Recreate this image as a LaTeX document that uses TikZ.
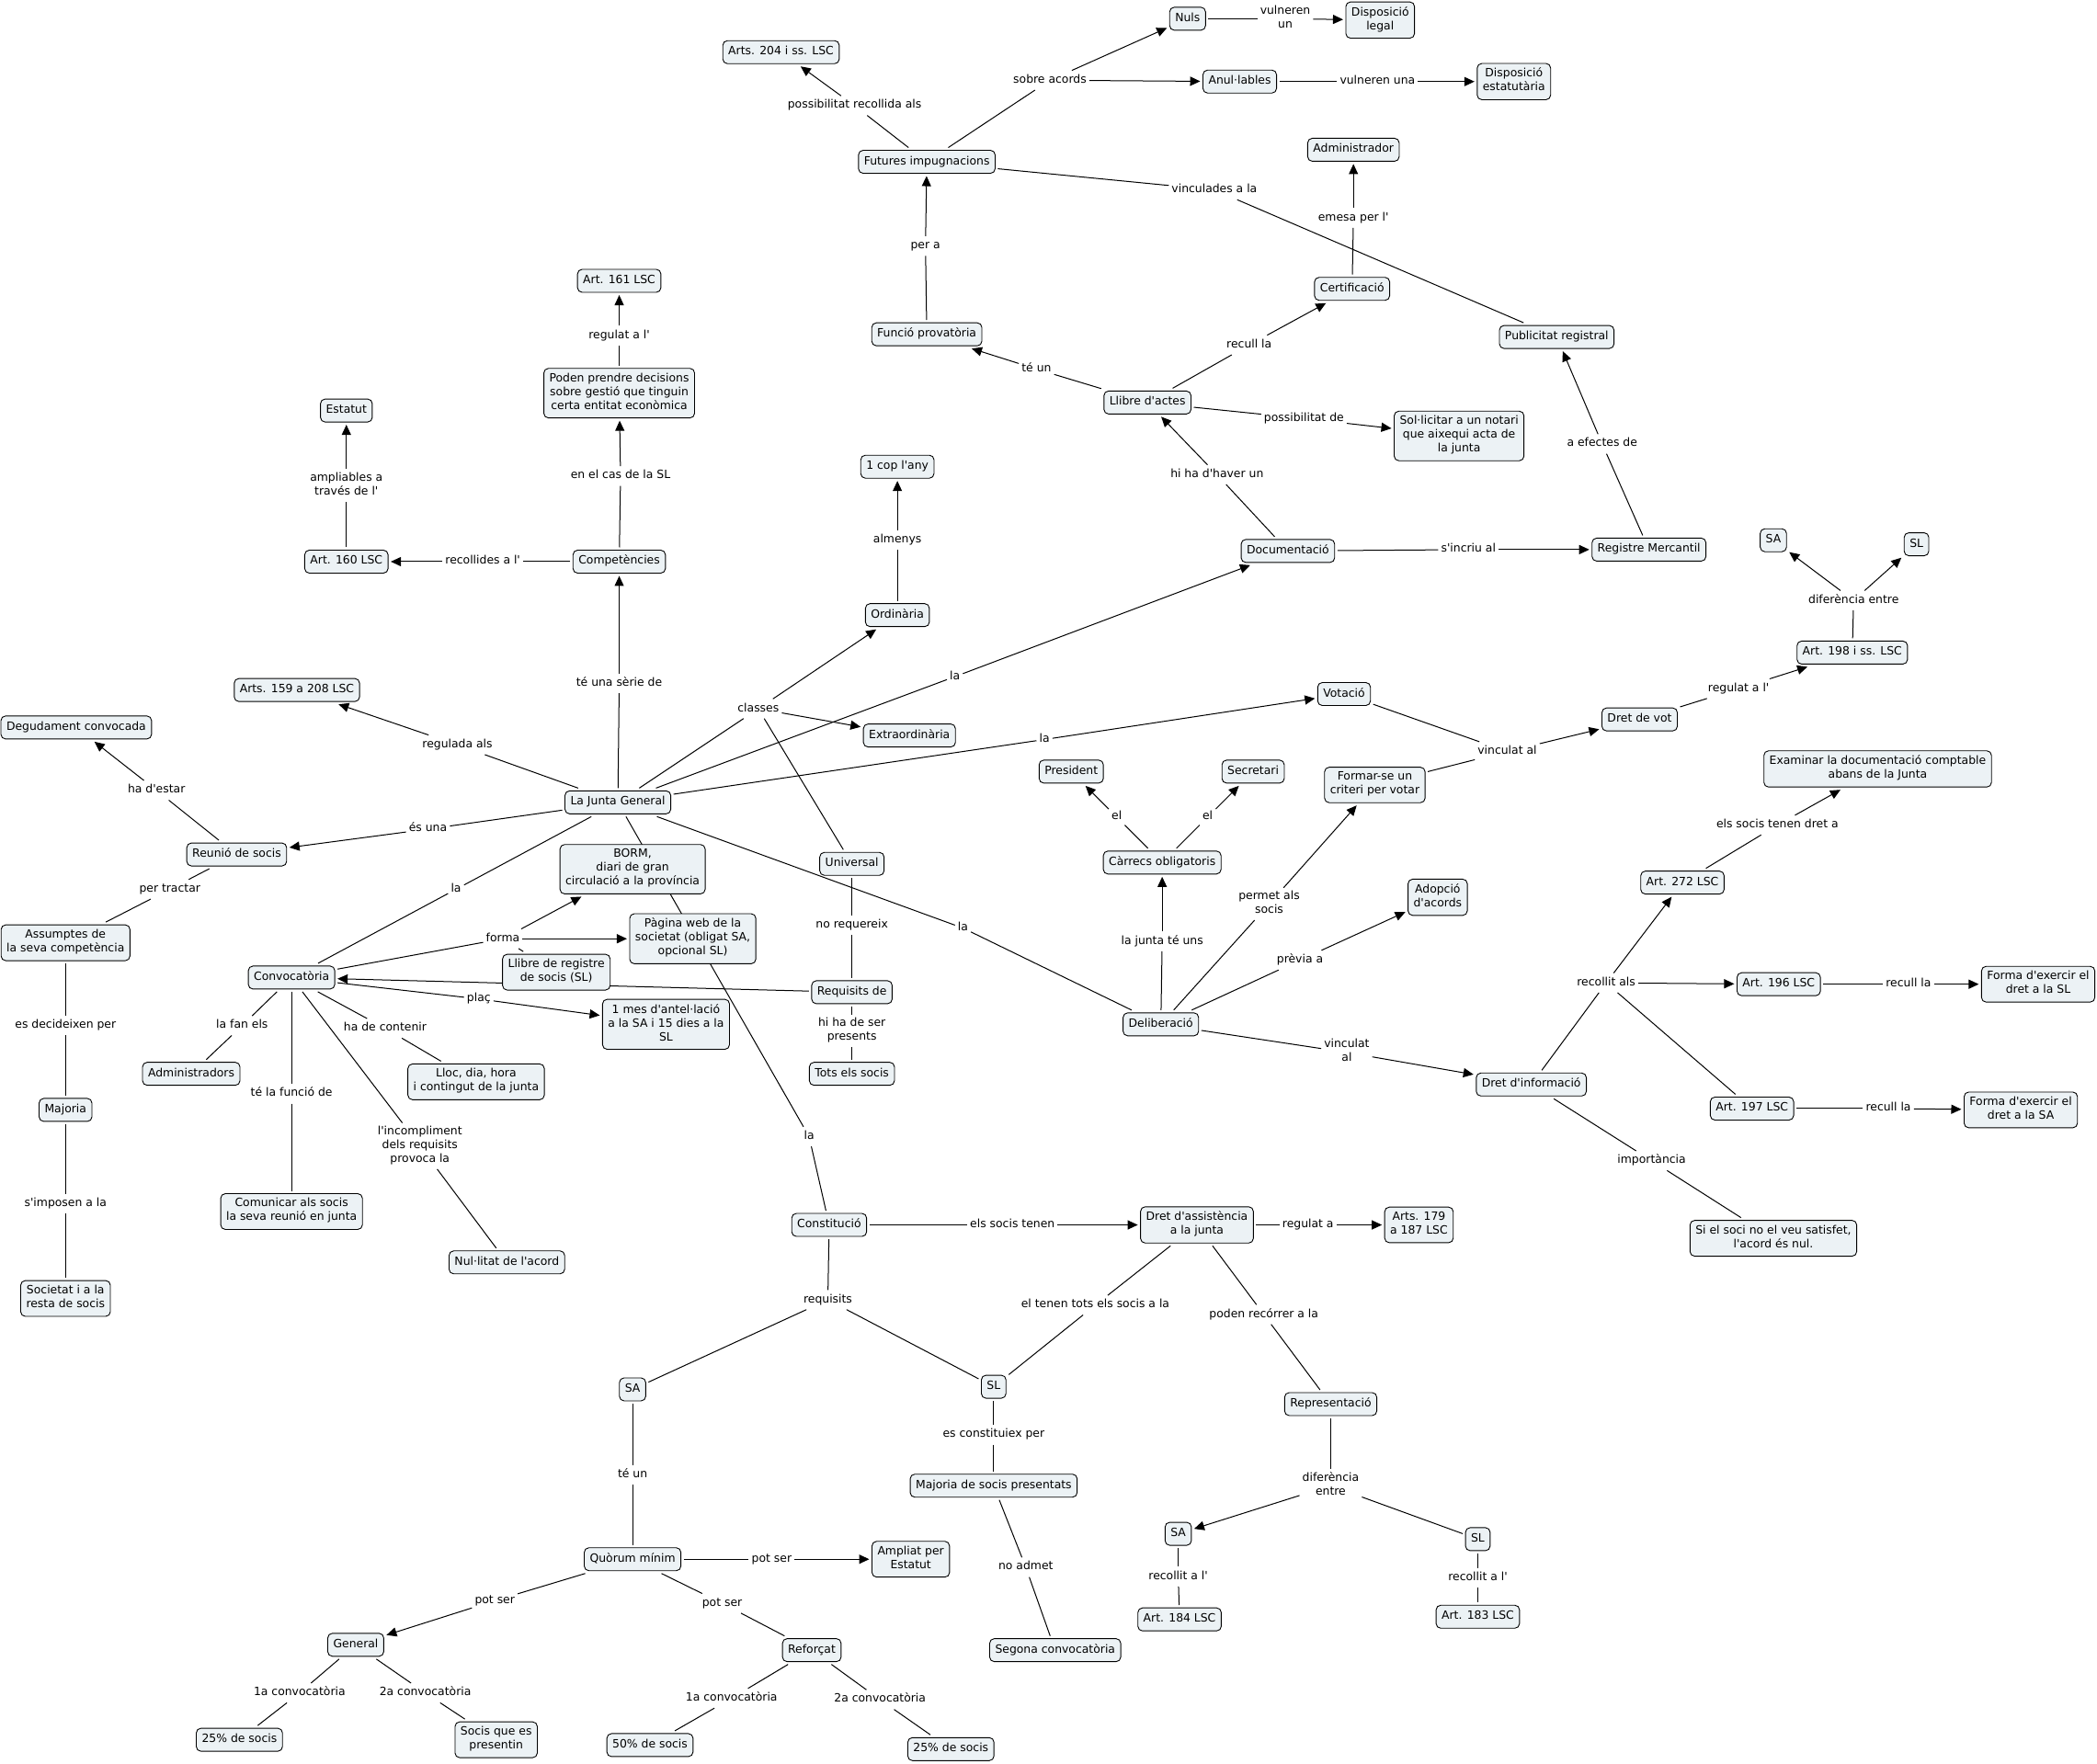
\documentclass[tikz,border=0pt]{standalone}
\usepackage{fontspec}
\newfontfamily\dv{DejaVu Sans}
\usetikzlibrary{arrows.meta}
\definecolor{cfill}{RGB}{236,242,245}
\pgfdeclarelayer{bg}
\pgfsetlayers{bg,main}
\begin{document}
\begin{tikzpicture}[x=1.4547pt,y=-1.4547pt,
 every node/.style={font=\dv\fontsize{12.4}{15}\selectfont},
 cpt/.style={draw=black, line width=0.9pt, fill=cfill, rounded corners=5pt, align=center, inner xsep=6pt, inner ysep=5pt, outer sep=3pt, execute at begin node=\strut, execute at end node=\strut},
 lbl/.style={align=center, inner sep=3pt, execute at begin node=\strut, execute at end node=\strut},
 ln/.style={line width=1pt},
 arr/.style={line width=1pt, -{Triangle[length=11pt,width=10pt]}}]
\useasboundingbox (0,0) rectangle (1568,1319);

% concepts
\node[cpt] (nuls) at (888,14) {Nuls};
\node[cpt] (displeg) at (1032,15) {Disposició\\legal};
\node[cpt] (arts204) at (584,39) {Arts. 204 i ss. LSC};
\node[cpt] (anul) at (927,61) {Anul·lables};
\node[cpt] (dispest) at (1132,61) {Disposició\\estatutària};
\node[cpt] (futures) at (693,121) {Futures impugnacions};
\node[cpt] (admin) at (1012,112) {Administrador};
\node[cpt] (art161) at (463,210) {Art. 161 LSC};
\node[cpt] (certif) at (1011,216) {Certificació};
\node[cpt] (funcio) at (693,250) {Funció provatòria};
\node[cpt] (public) at (1164,252) {Publicitat registral};
\node[cpt] (poden) at (463,294) {Poden prendre decisions\\sobre gestió que tinguin\\certa entitat econòmica};
\node[cpt] (llibreact) at (858,301) {Llibre d'actes};
\node[cpt] (estatut) at (259,307) {Estatut};
\node[cpt] (solic) at (1091,326) {Sol·licitar a un notari\\que aixequi acta de\\la junta};
\node[cpt] (cop) at (671,349) {1 cop l'any};
\node[cpt] (sa1) at (1326,404) {SA};
\node[cpt] (sl1) at (1433,407) {SL};
\node[cpt] (docu) at (963,412) {Documentació};
\node[cpt] (regmerc) at (1233,411) {Registre Mercantil};
\node[cpt] (art160) at (259,420) {Art. 160 LSC};
\node[cpt] (compet) at (463,420) {Competències};
\node[cpt] (ordin) at (671,460) {Ordinària};
\node[cpt] (art198) at (1385,488) {Art. 198 i ss. LSC};
\node[cpt] (arts159) at (222,516) {Arts. 159 a 208 LSC};
\node[cpt] (votacio) at (1005,519) {Votació};
\node[cpt] (dretvot) at (1226,538) {Dret de vot};
\node[cpt] (degud) at (57,544) {Degudament convocada};
\node[cpt] (extra) at (680,550) {Extraordinària};
\node[cpt] (president) at (801,577) {President};
\node[cpt] (secretari) at (937,577) {Secretari};
\node[cpt] (examinar) at (1404,575) {Examinar la documentació comptable\\abans de la Junta};
\node[cpt] (formar) at (1028,587) {Formar-se un\\criteri per votar};
\node[cpt] (junta) at (462,600) {La Junta General};
\node[cpt] (reunio) at (177,639) {Reunió de socis};
\node[cpt] (universal) at (637,646) {Universal};
\node[cpt] (carrecs) at (869,645) {Càrrecs obligatoris};
\node[cpt] (borm) at (473,650) {BORM,\\diari de gran\\circulació a la província};
\node[cpt] (art272) at (1258,660) {Art. 272 LSC};
\node[cpt] (adopcio) at (1075,671) {Adopció\\d'acords};
\node[cpt] (assumptes) at (49,705) {Assumptes de\\la seva competència};
\node[cpt] (pagina) at (518,702) {Pàgina web de la\\societat (obligat SA,\\opcional SL)};
\node[cpt] (llibrereg) at (416,727) {Llibre de registre\\de socis (SL)};
\node[cpt] (convoc) at (218,731) {Convocatòria};
\node[cpt] (art196) at (1330,736) {Art. 196 LSC};
\node[cpt] (formasl) at (1524,736) {Forma d'exercir el\\dret a la SL};
\node[cpt] (requisits) at (637,742) {Requisits de};
\node[cpt] (mes) at (498,766) {1 mes d'antel·lació\\a la SA i 15 dies a la\\SL};
\node[cpt] (delib) at (868,766) {Deliberació};
\node[cpt] (administradors) at (143,803) {Administradors};
\node[cpt] (tots) at (637,803) {Tots els socis};
\node[cpt] (lloc) at (356,809) {Lloc, dia, hora\\i contingut de la junta};
\node[cpt] (dretinf) at (1145,811) {Dret d'informació};
\node[cpt] (art197) at (1310,829) {Art. 197 LSC};
\node[cpt] (formasa) at (1511,830) {Forma d'exercir el\\dret a la SA};
\node[cpt] (majoria) at (49,830) {Majoria};
\node[cpt] (comunicar) at (218,906) {Comunicar als socis\\la seva reunió en junta};
\node[cpt] (constitucio) at (620,916) {Constitució};
\node[cpt] (dretass) at (895,916) {Dret d'assistència\\a la junta};
\node[cpt] (arts179) at (1061,916) {Arts. 179\\a 187 LSC};
\node[cpt] (sisoci) at (1326,926) {Si el soci no el veu satisfet,\\l'acord és nul.};
\node[cpt] (nulitat) at (379,944) {Nul·litat de l'acord};
\node[cpt] (societat) at (49,971) {Societat i a la\\resta de socis};
\node[cpt] (sa2) at (473,1039) {SA};
\node[cpt] (sl2) at (743,1037) {SL};
\node[cpt] (repres) at (995,1050) {Representació};
\node[cpt] (majsoc) at (743,1111) {Majoria de socis presentats};
\node[cpt] (sa3) at (881,1147) {SA};
\node[cpt] (sl3) at (1105,1151) {SL};
\node[cpt] (quorum) at (473,1166) {Quòrum mínim};
\node[cpt] (ampliat) at (681,1166) {Ampliat per\\Estatut};
\node[cpt] (art184) at (882,1211) {Art. 184 LSC};
\node[cpt] (art183) at (1105,1209) {Art. 183 LSC};
\node[cpt] (general) at (266,1230) {General};
\node[cpt] (reforcat) at (607,1234) {Reforçat};
\node[cpt] (segona) at (789,1234) {Segona convocatòria};
\node[cpt] (pa) at (179,1301) {25\% de socis};
\node[cpt] (socisq) at (371,1301) {Socis que es\\presentin};
\node[cpt] (pc) at (486,1305) {50\% de socis};
\node[cpt] (pb) at (711,1308) {25\% de socis};

% linking phrases
\node[lbl] (lvulun) at (961,14) {vulneren\\un};
\node[lbl] (lsobre) at (785,60) {sobre acords};
\node[lbl] (lvuluna) at (1030,61) {vulneren una};
\node[lbl] (lpossrec) at (639,79) {possibilitat recollida als};
\node[lbl] (lvinc) at (908,142) {vinculades a la};
\node[lbl] (lemesa) at (1012,163) {emesa per l'};
\node[lbl] (lpera) at (692,184) {per a};
\node[lbl] (lreg161) at (463,251) {regulat a l'};
\node[lbl] (lrecull) at (934,258) {recull la};
\node[lbl] (lteun) at (775,276) {té un};
\node[lbl] (lpossde) at (975,313) {possibilitat de};
\node[lbl] (lefectes) at (1198,332) {a efectes de};
\node[lbl] (lhiha) at (910,355) {hi ha d'haver un};
\node[lbl] (lencas) at (464,356) {en el cas de la SL};
\node[lbl] (lampl) at (259,363) {ampliables a\\través de l'};
\node[lbl] (lalmenys) at (671,404) {almenys};
\node[lbl] (lincriu) at (1098,411) {s'incriu al};
\node[lbl] (lrecoll) at (361,420) {recollides a l'};
\node[lbl] (ldif) at (1386,449) {diferència entre};
\node[lbl] (lla1) at (714,506) {la};
\node[lbl] (lserie) at (463,511) {té una sèrie de};
\node[lbl] (lreg198) at (1300,515) {regulat a l'};
\node[lbl] (lclasses) at (567,530) {classes};
\node[lbl] (lla2) at (781,553) {la};
\node[lbl] (lregul) at (342,557) {regulada als};
\node[lbl] (lvincal) at (1127,562) {vinculat al};
\node[lbl] (lhadest) at (117,591) {ha d'estar};
\node[lbl] (lel1) at (835,611) {el};
\node[lbl] (lel2) at (903,611) {el};
\node[lbl] (lesuna) at (320,620) {és una};
\node[lbl] (lsocisdret) at (1329,617) {els socis tenen dret a};
\node[lbl] (lpertr) at (127,665) {per tractar};
\node[lbl] (lla3) at (341,665) {la};
\node[lbl] (lpermet) at (949,676) {permet als\\socis};
\node[lbl] (lnoreq) at (637,692) {no requereix};
\node[lbl] (lla4) at (720,694) {la};
\node[lbl] (lforma) at (376,702) {forma};
\node[lbl] (ljunta) at (869,704) {la junta té uns};
\node[lbl] (lprevia) at (972,718) {prèvia a};
\node[lbl] (lrecals) at (1201,735) {recollit als};
\node[lbl] (lrec196) at (1427,736) {recull la};
\node[lbl] (lplac) at (358,747) {plaç};
\node[lbl] (llafan) at (181,767) {la fan els};
\node[lbl] (lesdec) at (49,767) {es decideixen per};
\node[lbl] (lhadec) at (288,769) {ha de contenir};
\node[lbl] (lhihaser) at (637,771) {hi ha de ser\\presents};
\node[lbl] (lvincal2) at (1007,787) {vinculat\\al};
\node[lbl] (lfuncio) at (218,818) {té la funció de};
\node[lbl] (lrec197) at (1412,829) {recull la};
\node[lbl] (lincomp) at (314,857) {l'incompliment\\dels requisits\\provoca la};
\node[lbl] (lla5) at (605,850) {la};
\node[lbl] (limport) at (1235,868) {importància};
\node[lbl] (lsimposen) at (49,900) {s'imposen a la};
\node[lbl] (lsocten) at (757,916) {els socis tenen};
\node[lbl] (lregulata) at (978,916) {regulat a};
\node[lbl] (lrequisits) at (619,972) {requisits};
\node[lbl] (ltenen) at (819,976) {el tenen tots els socis a la};
\node[lbl] (lrecorrer) at (945,983) {poden recórrer a la};
\node[lbl] (lconst) at (743,1073) {es constituiex per};
\node[lbl] (lteun2) at (473,1103) {té un};
\node[lbl] (ldifent) at (995,1111) {diferència\\entre};
\node[lbl] (lpotser1) at (577,1166) {pot ser};
\node[lbl] (lnoadmet) at (767,1172) {no admet};
\node[lbl] (lrec184) at (881,1179) {recollit a l'};
\node[lbl] (lrec183) at (1105,1180) {recollit a l'};
\node[lbl] (lpotser2) at (370,1197) {pot ser};
\node[lbl] (lpotser3) at (540,1199) {pot ser};
\node[lbl] (l1a1) at (224,1266) {1a convocatòria};
\node[lbl] (l2a1) at (318,1266) {2a convocatòria};
\node[lbl] (l1a2) at (547,1270) {1a convocatòria};
\node[lbl] (l2a2) at (658,1271) {2a convocatòria};

\begin{pgfonlayer}{bg}
\fill[white] (0,0) rectangle (1568,1319);
% top
\draw[ln] (futures) -- (lpossrec); \draw[arr] (lpossrec) -- (arts204);
\draw[ln] (futures) -- (lsobre); \draw[arr] (lsobre) -- (nuls); \draw[arr] (lsobre) -- (anul);
\draw[ln] (nuls) -- (lvulun); \draw[arr] (lvulun) -- (displeg);
\draw[ln] (anul) -- (lvuluna); \draw[arr] (lvuluna) -- (dispest);
\draw[ln] (futures) -- (lvinc); \draw[ln] (lvinc) -- (public);
\draw[ln] (funcio) -- (lpera); \draw[arr] (lpera) -- (futures);
\draw[ln] (llibreact) -- (lteun); \draw[arr] (lteun) -- (funcio);
\draw[ln] (llibreact) -- (lrecull); \draw[arr] (lrecull) -- (certif);
\draw[ln] (certif) -- (lemesa); \draw[arr] (lemesa) -- (admin);
\draw[ln] (llibreact) -- (lpossde); \draw[arr] (lpossde) -- (solic);
\draw[ln] (docu) -- (lhiha); \draw[arr] (lhiha) -- (llibreact);
\draw[ln] (regmerc) -- (lefectes); \draw[arr] (lefectes) -- (public);
\draw[ln] (docu) -- (lincriu); \draw[arr] (lincriu) -- (regmerc);
% junta
\draw[ln] (junta) -- (lla1); \draw[arr] (lla1) -- (docu);
\draw[ln] (junta) -- (lserie); \draw[arr] (lserie) -- (compet);
\draw[ln] (compet) -- (lrecoll); \draw[arr] (lrecoll) -- (art160);
\draw[ln] (art160) -- (lampl); \draw[arr] (lampl) -- (estatut);
\draw[ln] (compet) -- (lencas); \draw[arr] (lencas) -- (poden);
\draw[ln] (poden) -- (lreg161); \draw[arr] (lreg161) -- (art161);
\draw[ln] (junta) -- (lclasses); \draw[arr] (lclasses) -- (ordin); \draw[arr] (lclasses) -- (extra); \draw[ln] (lclasses) -- (universal);
\draw[ln] (ordin) -- (lalmenys); \draw[arr] (lalmenys) -- (cop);
\draw[ln] (junta) -- (lregul); \draw[arr] (lregul) -- (arts159);
\draw[ln] (junta) -- (lesuna); \draw[arr] (lesuna) -- (reunio);
\draw[ln] (reunio) -- (lhadest); \draw[arr] (lhadest) -- (degud);
\draw[ln] (reunio) -- (lpertr); \draw[ln] (lpertr) -- (assumptes);
\draw[ln] (assumptes) -- (lesdec); \draw[ln] (lesdec) -- (majoria);
\draw[ln] (majoria) -- (lsimposen); \draw[ln] (lsimposen) -- (societat);
\draw[ln] (junta) -- (lla3); \draw[ln] (lla3) -- (convoc);
\draw[ln] (junta) -- (lla2); \draw[arr] (lla2) -- (votacio);
\draw[ln] (votacio) -- (lvincal); \draw[ln] (formar) -- (lvincal); \draw[arr] (lvincal) -- (dretvot);
\draw[ln] (dretvot) -- (lreg198); \draw[arr] (lreg198) -- (art198);
\draw[ln] (art198) -- (ldif); \draw[arr] (ldif) -- (sa1); \draw[arr] (ldif) -- (sl1);
\draw[ln] (junta) -- (lla4); \draw[ln] (lla4) -- (delib);
\draw[ln] (junta) -- (lla5); \draw[ln] (lla5) -- (constitucio);
% convocatoria
\draw[ln] (convoc) -- (lforma); \draw[arr] (lforma) -- (borm); \draw[arr] (lforma) -- (pagina); \draw[ln] (lforma) -- (llibrereg);
\draw[ln] (universal) -- (lnoreq); \draw[ln] (lnoreq) -- (requisits);
\draw[ln] (requisits) -- (lhihaser); \draw[ln] (lhihaser) -- (tots);
\draw[arr] (requisits) -- (convoc);
\draw[ln] (convoc) -- (lplac); \draw[arr] (lplac) -- (mes);
\draw[ln] (convoc) -- (llafan); \draw[ln] (llafan) -- (administradors);
\draw[ln] (convoc) -- (lhadec); \draw[ln] (lhadec) -- (lloc);
\draw[ln] (convoc) -- (lfuncio); \draw[ln] (lfuncio) -- (comunicar);
\draw[ln] (convoc) -- (lincomp); \draw[ln] (lincomp) -- (nulitat);
% deliberacio
\draw[ln] (delib) -- (ljunta); \draw[arr] (ljunta) -- (carrecs);
\draw[ln] (carrecs) -- (lel1); \draw[arr] (lel1) -- (president);
\draw[ln] (carrecs) -- (lel2); \draw[arr] (lel2) -- (secretari);
\draw[ln] (delib) -- (lpermet); \draw[arr] (lpermet) -- (formar);
\draw[ln] (delib) -- (lprevia); \draw[arr] (lprevia) -- (adopcio);
\draw[ln] (delib) -- (lvincal2); \draw[arr] (lvincal2) -- (dretinf);
\draw[ln] (dretinf) -- (lrecals); \draw[arr] (lrecals) -- (art272); \draw[arr] (lrecals) -- (art196); \draw[ln] (lrecals) -- (art197);
\draw[ln] (art272) -- (lsocisdret); \draw[arr] (lsocisdret) -- (examinar);
\draw[ln] (art196) -- (lrec196); \draw[arr] (lrec196) -- (formasl);
\draw[ln] (art197) -- (lrec197); \draw[arr] (lrec197) -- (formasa);
\draw[ln] (dretinf) -- (limport); \draw[ln] (limport) -- (sisoci);
% constitucio
\draw[ln] (constitucio) -- (lsocten); \draw[arr] (lsocten) -- (dretass);
\draw[ln] (dretass) -- (lregulata); \draw[arr] (lregulata) -- (arts179);
\draw[ln] (dretass) -- (ltenen); \draw[ln] (ltenen) -- (sl2);
\draw[ln] (dretass) -- (lrecorrer); \draw[ln] (lrecorrer) -- (repres);
\draw[ln] (repres) -- (ldifent); \draw[arr] (ldifent) -- (sa3); \draw[ln] (ldifent) -- (sl3);
\draw[ln] (sa3) -- (lrec184); \draw[ln] (lrec184) -- (art184);
\draw[ln] (sl3) -- (lrec183); \draw[ln] (lrec183) -- (art183);
\draw[ln] (constitucio) -- (lrequisits); \draw[ln] (lrequisits) -- (sa2); \draw[ln] (lrequisits) -- (sl2);
\draw[ln] (sa2) -- (lteun2); \draw[ln] (lteun2) -- (quorum);
\draw[ln] (sl2) -- (lconst); \draw[ln] (lconst) -- (majsoc);
\draw[ln] (majsoc) -- (lnoadmet); \draw[ln] (lnoadmet) -- (segona);
\draw[ln] (quorum) -- (lpotser1); \draw[arr] (lpotser1) -- (ampliat);
\draw[ln] (quorum) -- (lpotser2); \draw[arr] (lpotser2) -- (general);
\draw[ln] (quorum) -- (lpotser3); \draw[ln] (lpotser3) -- (reforcat);
\draw[ln] (general) -- (l1a1); \draw[ln] (l1a1) -- (pa);
\draw[ln] (general) -- (l2a1); \draw[ln] (l2a1) -- (socisq);
\draw[ln] (reforcat) -- (l1a2); \draw[ln] (l1a2) -- (pc);
\draw[ln] (reforcat) -- (l2a2); \draw[ln] (l2a2) -- (pb);
\end{pgfonlayer}
\end{tikzpicture}
\end{document}
